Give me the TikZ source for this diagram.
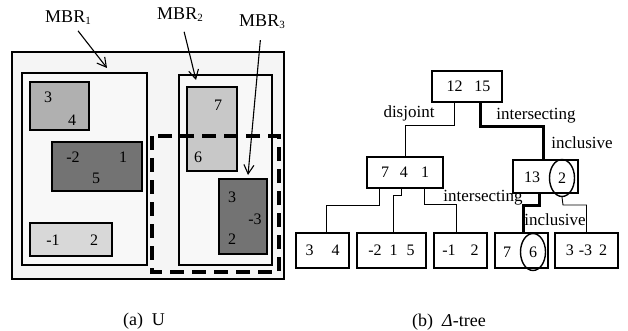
\documentclass[tikz,border=0pt]{standalone}
\usepackage{fontspec}
\setmainfont{Liberation Serif}
\usetikzlibrary{arrows.meta,shapes.geometric}
\definecolor{cellpale}{HTML}{D8D8D8}
\definecolor{cellmid}{HTML}{B0B0B0}
\definecolor{cellsoft}{HTML}{C8C8C8}
\definecolor{celldark}{HTML}{737373}
\definecolor{mapbg}{HTML}{F5F5F5}
\tikzset{
    % Left panel styles
    mb frame/.style={draw=black, line width=1.6pt},
    mb cell/.style={draw=black, line width=1.6pt, inner sep=0pt},
    mb dash/.style={draw=black, line width=3.5pt, dash pattern=on 14pt off 8pt},
    mb num/.style={font=\fontsize{16}{16}\selectfont, inner sep=0pt},
    mb name/.style={font=\fontsize{18}{18}\selectfont, inner sep=1pt},
    mb arrow/.style={-{Straight Barb[length=9pt,width=10pt]}, line width=1.1pt},
    % Tree styles
    dt box/.style={draw=black, line width=1.2pt, inner sep=0pt,
                   font=\fontsize{16}{16}\selectfont},
    dt ring/.style={ellipse, draw=black, line width=1.4pt, inner sep=0pt,
                    minimum width=25pt, minimum height=37pt,
                    font=\fontsize{16}{16}\selectfont},
    dt edge/.style={line width=0.9pt},
    dt hot/.style={line width=3pt},
    dt ann/.style={font=\fontsize{17}{17}\selectfont, inner sep=1pt},
    dt cap/.style={font=\fontsize{18}{18}\selectfont, inner sep=0pt},
}
\begin{document}
\begin{tikzpicture}[x=1pt, y=-1pt]
    \useasboundingbox (0,0) rectangle (628,331);
    % (a) the space U
    \draw[mb frame, fill=mapbg] (12,52) rectangle (284,279);
    \draw[mb frame, fill=mapbg!70] (22,73) rectangle (147,265);
    \draw[mb frame, fill=mapbg!70] (179,75) rectangle (272,265);
    \node[mb cell, fill=cellmid, minimum width=59pt, minimum height=48pt] (r34) at (59.5,106) {};
    \node[mb cell, fill=celldark, minimum width=90pt, minimum height=49pt] (r215) at (97,166.5) {};
    \node[mb cell, fill=cellpale, minimum width=82pt, minimum height=33pt] (r12) at (71,239.5) {};
    \node[mb cell, fill=cellsoft, minimum width=50pt, minimum height=84pt] (r76) at (212,129) {};
    \node[mb cell, fill=celldark, minimum width=48pt, minimum height=75pt] (r332) at (243,216.5) {};
    % numbers in the rectangles
    \node[mb num] (n3) at (48,97) {3};
    \node[mb num] (n4) at (72,120) {4};
    \node[mb num] (nm2) at (73,157) {-2};
    \node[mb num] (n1) at (123,157) {1};
    \node[mb num] (n5) at (96,178) {5};
    \node[mb num] (nm1) at (53,240) {-1};
    \node[mb num] (n2) at (94,240) {2};
    \node[mb num] (n7) at (218,105) {7};
    \node[mb num] (n6) at (198,157) {6};
    \node[mb num] (n3b) at (232,197) {3};
    \node[mb num] (nm3) at (255,219) {-3};
    \node[mb num] (n2b) at (232,239) {2};
    % MBR3 (dashed)
    \draw[mb dash] (152,136) rectangle (279,272);
    % MBR labels and arrows
    \node[mb name] (m1) at (68,18) {MBR\raisebox{-2pt}{\fontsize{11}{11}\selectfont 1}};
    \node[mb name] (m2) at (180,15) {MBR\raisebox{-2pt}{\fontsize{11}{11}\selectfont 2}};
    \node[mb name] (m3) at (262,22) {MBR\raisebox{-2pt}{\fontsize{11}{11}\selectfont 3}};
    \coordinate (t1) at (107,68);
    \coordinate (t2) at (196,80);
    \coordinate (t3) at (248,175);
    \draw[mb arrow, shorten <=6pt] (m1) -- (t1);
    \draw[mb arrow, shorten <=9pt] (m2) -- (t2);
    \draw[mb arrow, shorten <=10pt] (m3) -- (t3);
    \node[dt cap] (capa) at (144,321) {(a)\enspace U};

    % (b) the tree
    \node[dt box, minimum width=70pt, minimum height=31pt] (root) at (467,86.5)
        {\hspace{3pt}12\hspace{12pt}15};
    \node[dt box, minimum width=76pt, minimum height=31pt] (n741) at (405,172.5)
        {7\hspace{11pt}4\hspace{13pt}1};
    \node[dt box, minimum width=65pt, minimum height=33pt] (n132) at (545.5,176.5) {};
    \node[dt box, draw=none] (n13) at (532,177) {13};
    \node[dt ring] (e2) at (562,178) {2};
    % leaves
    \node[dt box, minimum width=53pt, minimum height=35pt] (l34) at (322.5,250.5)
        {3\hspace{18pt}4};
    \node[dt box, minimum width=69pt, minimum height=35pt] (l215) at (391.5,250.5)
        {-2\hspace{8pt}1\hspace{9pt}5};
    \node[dt box, minimum width=53pt, minimum height=35pt] (l12) at (460.5,250.5)
        {-1\hspace{15pt}2};
    \node[dt box, minimum width=53pt, minimum height=35pt] (l76) at (521.5,250.5) {};
    \node[dt box, draw=none] (l7) at (507,252) {7};
    \node[dt ring] (e6) at (533,252) {6};
    \node[dt box, minimum width=63pt, minimum height=35pt] (l332) at (586.5,250.5)
        {3\hspace{5pt}-3\hspace{7pt}2};
    % connectors
    \draw[dt edge] ([xshift=-13pt]root.south) -- ++(0,23) -| (n741.north);
    \draw[dt hot] ([xshift=13pt]root.south) -- ++(0,24) -| ([xshift=-2.5pt]n132.north);
    \draw[dt edge] ([xshift=-26pt]n741.south) -- ++(0,17) -| ([xshift=3.5pt]l34.north);
    \draw[dt edge] ([xshift=-4pt]n741.south) -- ++(0,7) -| ([xshift=1.5pt]l215.north);
    \draw[dt edge] ([xshift=19pt]n741.south) -- ++(0,16) -| ([xshift=-4.5pt]l12.north);
    \draw[dt hot] ([xshift=-6.5pt]n132.south) -- ++(0,12) -| ([xshift=1.5pt]l76.north);
    \draw[dt edge] (e2.south) -- (563,205) -| (l332.north);
    % edge labels
    \node[dt ann] (a1) at (409,113) {disjoint};
    \node[dt ann] (a2) at (536,116) {intersecting};
    \node[dt ann] (a3) at (582,143) {inclusive};
    \node[dt ann] (a4) at (483,198) {intersecting};
    \node[dt ann] (a5) at (555,220) {inclusive};
    \node[dt cap] (capb) at (449,322) {(b)\enspace\textit{Δ}-tree};
\end{tikzpicture}
\end{document}
